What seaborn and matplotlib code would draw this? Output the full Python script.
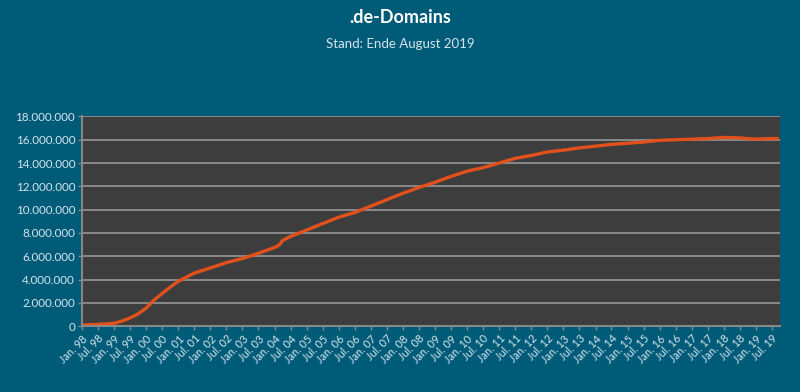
import pandas as pd
import seaborn as sns
import matplotlib.pyplot as plt
import matplotlib.ticker as mticker

# Stichtage (Monatsanfang) und Anzahl .de-Domains in Mio.
dates = [
    "1998-01", "1998-07", "1998-10", "1999-01", "1999-04", "1999-07",
    "1999-10", "2000-01", "2000-04", "2000-07", "2000-10",
    "2001-01", "2001-07", "2002-01", "2002-07", "2003-01", "2003-07",
    "2004-01", "2004-03", "2004-04", "2004-07", "2005-01", "2005-07",
    "2006-01", "2006-07", "2007-01", "2007-07", "2008-01", "2008-07",
    "2009-01", "2009-07", "2010-01", "2010-07", "2011-01", "2011-07",
    "2012-01", "2012-07", "2013-01", "2013-07", "2014-01", "2014-07",
    "2015-01", "2015-07", "2016-01", "2016-07", "2017-01", "2017-07",
    "2018-01", "2018-07", "2019-01", "2019-07", "2019-09",
]
domains_mio = [
    0.10, 0.15, 0.19, 0.25, 0.43, 0.70,
    1.05, 1.55, 2.25, 2.80, 3.35,
    3.85, 4.55, 5.00, 5.45, 5.80, 6.25,
    6.75, 7.00, 7.35, 7.70, 8.25, 8.80,
    9.35, 9.75, 10.30, 10.85, 11.40, 11.90,
    12.35, 12.85, 13.30, 13.60, 14.00, 14.40,
    14.65, 14.95, 15.10, 15.30, 15.45, 15.60,
    15.70, 15.80, 15.95, 16.00, 16.05, 16.10,
    16.20, 16.15, 16.05, 16.10, 16.10,
]

title = ".de-Domains"
subtitle = "Stand: Ende August 2019"

bg = "#005b78"
plot_bg = "#3d3d3d"
grid_col = "#8a8a8a"
line_col = "#e2501c"
text_col = "#d6e6ee"

df = pd.DataFrame({
    "datum": pd.to_datetime(dates),
    "domains": [v * 1e6 for v in domains_mio],
})

sns.set_theme(style="dark")
plt.rcParams["font.family"] = ["Lato", "DejaVu Sans"]

fig = plt.figure(figsize=(8, 3.92), dpi=100, facecolor=bg)
ax = fig.add_axes([0.1025, 0.168, 0.8725, 0.535])
ax.set_facecolor(plot_bg)

sns.lineplot(data=df, x="datum", y="domains", ax=ax, color=line_col, linewidth=2.4)

ax.set_ylim(0, 18e6)
ax.set_xlim(pd.Timestamp("1998-01-01"), pd.Timestamp("2019-10-01"))

ax.yaxis.set_major_locator(mticker.MultipleLocator(2e6))
ax.yaxis.set_major_formatter(
    mticker.FuncFormatter(lambda v, p: f"{int(v):,}".replace(",", "."))
)
ax.grid(axis="y", color=grid_col, linewidth=1.4)
ax.grid(axis="x", visible=False)

ticks = pd.date_range("1998-01-01", "2019-07-01", freq="6MS")
labels = [("Jan. " if t.month == 1 else "Jul. ") + t.strftime("%y") for t in ticks]
ax.set_xticks(ticks)
ax.set_xticklabels(labels, rotation=45, ha="right", rotation_mode="anchor")

ax.tick_params(axis="both", colors=grid_col, length=3, width=1, direction="out",
               bottom=True, left=True, labelcolor=text_col)
ax.tick_params(axis="x", labelsize=7.8, pad=2)
ax.tick_params(axis="y", labelsize=8.4, pad=2)

for side in ["top", "right"]:
    ax.spines[side].set_visible(False)
for side in ["left", "bottom"]:
    ax.spines[side].set_color(grid_col)
    ax.spines[side].set_linewidth(1.4)

ax.set_xlabel("")
ax.set_ylabel("")

fig.text(0.5, 0.955, title, ha="center", va="center", color="white",
         fontsize=13, fontweight="bold")
fig.text(0.5, 0.887, subtitle, ha="center", va="center", color=text_col,
         fontsize=9.5)

fig.savefig("out.png", dpi=100, facecolor=bg)
